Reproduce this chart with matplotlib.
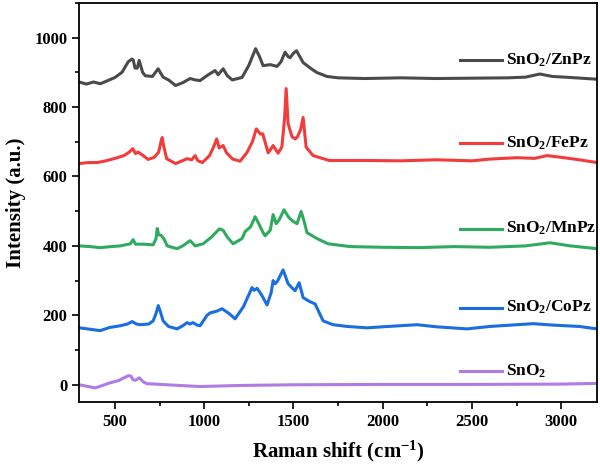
import matplotlib
matplotlib.use("Agg")
import matplotlib.pyplot as plt
from matplotlib.ticker import MultipleLocator

# values (Raman shift in cm-1, intensity a.u.)
zn_x = [300, 340, 380, 418, 460, 500, 540, 574, 595, 602, 613, 625, 636, 655, 670, 710, 742, 770,
        800, 840, 880, 921, 950, 977, 1020, 1061, 1078, 1106, 1130, 1157, 1212, 1250, 1288, 1310,
        1330, 1370, 1408, 1430, 1453, 1470, 1481, 1500, 1517, 1554, 1600, 1632, 1688, 1750, 1900,
        2100, 2300, 2500, 2700, 2800, 2880, 2950, 3050, 3200]
zn_y = [872, 866, 872, 867, 876, 885, 900, 930, 938, 936, 912, 912, 934, 900, 890, 888, 910, 886,
        878, 862, 870, 882, 878, 876, 892, 905, 893, 910, 890, 878, 885, 920, 968, 945,
        919, 922, 917, 930, 958, 945, 942, 955, 962, 928, 910, 899, 888, 884, 882,
        884, 882, 883, 884, 886, 895, 888, 885, 880]

fe_x = [300, 350, 400, 450, 500, 550, 580, 600, 615, 630, 653, 686, 720, 745, 758, 765, 772, 790,
        840, 904, 930, 949, 965, 990, 1030, 1055, 1070, 1084, 1106, 1125, 1160, 1201, 1240, 1270,
        1292, 1315, 1328, 1358, 1375, 1386, 1414, 1435, 1450, 1459, 1470, 1492, 1510, 1522, 1540,
        1554, 1571, 1610, 1700, 1900, 2100, 2300, 2500, 2600, 2752, 2850, 2920, 3000, 3100, 3200]
fe_y = [637, 640, 640, 645, 652, 660, 670, 680, 666, 670, 662, 649, 655, 670, 700, 712, 690, 651,
        637, 651, 648, 660, 645, 640, 660, 688, 708, 682, 689, 668, 650, 644, 669, 700,
        737, 722, 723, 668, 680, 689, 667, 685, 765, 853, 752, 714, 708, 714, 735,
        770, 684, 660, 646, 646, 645, 648, 645, 650, 654, 652, 660, 655, 648, 640]

mn_x = [300, 360, 418, 480, 530, 586, 602, 615, 660, 714, 730, 737, 745, 760, 775, 793, 848, 880,
        921, 935, 949, 994, 1040, 1085, 1106, 1130, 1162, 1212, 1229, 1260, 1285, 1300, 1330, 1341,
        1370, 1386, 1403, 1420, 1447, 1470, 1481, 1500, 1520, 1543, 1560, 1576, 1632, 1694, 1817,
        2000, 2200, 2400, 2600, 2800, 2937, 3050, 3200]
mn_y = [400, 398, 395, 398, 400, 406, 418, 405, 405, 403, 420, 450, 432, 430, 420, 400, 392, 400,
        415, 408, 400, 406, 425, 449, 445, 425, 406, 421, 441, 455, 484, 470, 438, 429,
        445, 490, 464, 475, 504, 485, 478, 470, 464, 499, 470, 438, 421, 406, 398,
        396, 395, 398, 396, 400, 409, 400, 392]

co_x = [300, 360, 418, 470, 530, 570, 597, 620, 642, 690, 714, 730, 743, 755, 770, 800, 848, 880,
        904, 920, 937, 960, 977, 1016, 1033, 1070, 1100, 1140, 1173, 1220, 1268, 1280, 1296, 1320,
        1352, 1375, 1386, 1397, 1410, 1442, 1470, 1490, 1509, 1532, 1554, 1590, 1621, 1666, 1722,
        1800, 1912, 2000, 2192, 2300, 2472, 2600, 2843, 2950, 3100, 3200]
co_y = [164, 160, 156, 165, 170, 175, 182, 175, 173, 175, 184, 205, 228, 210, 184, 168, 161, 170,
        179, 175, 179, 172, 170, 200, 207, 212, 219, 205, 190, 225, 280, 272, 278, 260,
        230, 265, 300, 291, 298, 331, 291, 280, 271, 294, 251, 240, 233, 184, 173,
        168, 164, 167, 173, 167, 161, 168, 176, 172, 168, 161]

sn_x = [300, 350, 390, 430, 474, 520, 574, 590, 602, 615, 636, 660, 680, 730, 793, 900, 977,
        1200, 1500, 2000, 2500, 3000, 3200]
sn_y = [0, -5, -9, -2, 6, 12, 26, 25, 14, 13, 20, 8, 3, 2, 0, -3, -5, -2, 0, 1, 1, 2, 4]

names = ["SnO$_2$/ZnPz", "SnO$_2$/FePz", "SnO$_2$/MnPz", "SnO$_2$/CoPz", "SnO$_2$"]
colors = ["#4a4a4a", "#f23c3c", "#2fab5f", "#1a6ee0", "#b07be3"]
series = [(zn_x, zn_y), (fe_x, fe_y), (mn_x, mn_y), (co_x, co_y), (sn_x, sn_y)]

# where each label sits (data coords)
label_y = [934, 695, 450, 222, 40]

plt.rcParams['font.family'] = ['Liberation Serif', 'DejaVu Serif']
plt.rcParams['font.weight'] = 'bold'
plt.rcParams['mathtext.fontset'] = 'custom'
plt.rcParams['mathtext.rm'] = 'Liberation Serif:bold'
plt.rcParams['mathtext.it'] = 'Liberation Serif:bold'
plt.rcParams['mathtext.bf'] = 'Liberation Serif:bold'

fig = plt.figure(figsize=(6, 4.72), dpi=100)
ax = fig.add_axes([0.132, 0.148, 0.863, 0.846])

for (x, y), c, name, ly in zip(series, colors, names, label_y):
    ax.plot(x, y, color=c, linewidth=2.2, solid_joinstyle='round')
    ax.plot([2433, 2668], [ly, ly], color=c, linewidth=2.2)
    ax.text(2690, ly, name, fontsize=12.5, fontweight='bold', va='center', ha='left')

ax.set_xlim(300, 3200)
ax.set_ylim(-50, 1100)
ax.xaxis.set_major_locator(MultipleLocator(500))
ax.xaxis.set_minor_locator(MultipleLocator(250))
ax.yaxis.set_major_locator(MultipleLocator(200))
ax.yaxis.set_minor_locator(MultipleLocator(100))
ax.tick_params(which='major', direction='out', length=5, width=1.2, labelsize=12)
ax.tick_params(which='minor', direction='out', length=3, width=1.2)
for lab in ax.get_xticklabels() + ax.get_yticklabels():
    lab.set_fontweight('bold')
for s in ax.spines.values():
    s.set_linewidth(1.3)

ax.set_xlabel("Raman shift (cm$^{-1}$)", fontsize=15, fontweight='bold', labelpad=6)
ax.set_ylabel("Intensity (a.u.)", fontsize=15, fontweight='bold', labelpad=6)

fig.savefig("out.png", dpi=100)
